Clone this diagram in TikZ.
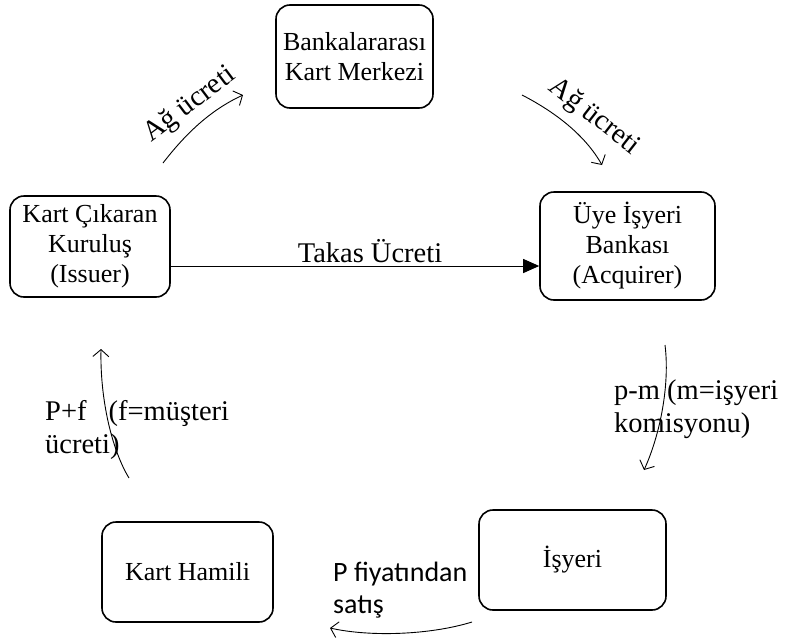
\documentclass[tikz,border=0pt]{standalone}
\usepackage{fontspec}
\setmainfont{Liberation Serif}
\newfontfamily\calfont{Carlito}
\usetikzlibrary{arrows.meta}
\begin{document}
\begin{tikzpicture}[x=1pt,y=-1pt,
  box/.style={draw,line width=1.6pt,rounded corners=14pt,align=center,inner sep=0pt,
    font=\fontsize{26}{30}\selectfont},
  lbl/.style={font=\fontsize{28.5}{33}\selectfont,inner sep=0pt},
  open/.style={line width=0.9pt,-{Straight Barb[length=7pt,width=16pt,line width=0.9pt]}},
  fill arrow/.style={line width=1pt,-{Triangle[length=16pt,width=14pt]}}]
\useasboundingbox (0,0) rectangle (786,640);
\node[box,minimum width=157pt,minimum height=103pt] (bank) at (354.5,56.5) {Bankalararası\\Kart Merkezi};
\node[box,minimum width=160pt,minimum height=101pt] (iss) at (90,246.5) {Kart Çıkaran\\Kuruluş\\(Issuer)};
\node[box,minimum width=175pt,minimum height=108pt] (acq) at (627.5,246) {Üye İşyeri\\Bankası\\(Acquirer)};
\node[box,minimum width=171pt,minimum height=100pt] (hamil) at (187.5,572) {Kart Hamili};
\node[box,minimum width=187pt,minimum height=100pt] (isy) at (572.5,560) {İşyeri};

% Ag ucreti left
\coordinate (l1) at (163,163);
\coordinate (l2) at (243,95);
\draw[open] (l1) .. controls (190,128) and (215,108) .. (l2);
\node[lbl,rotate=37] (agl) at (190,105) {Ağ ücreti};
% Ag ucreti right
\coordinate (r1) at (522,95);
\coordinate (r2) at (602,165);
\draw[open] (r1) .. controls (555,112) and (585,135) .. (r2);
\node[lbl,rotate=-38] (agr) at (594,117) {Ağ ücreti};
% Takas
\draw[fill arrow] (iss.east |- 0,266) coordinate (t1) -- (acq.west |- t1);
\node[lbl] (tak) at (370,251) {Takas Ücreti};
% p-m
\coordinate (p1) at (665,345);
\coordinate (p2) at (644,470);
\draw[open] (p1) .. controls (670,385) and (660,435) .. (p2);
\node[lbl,anchor=north west,align=left] (pm) at (614,380) {p-m (m=işyeri\\komisyonu)};
% P+f
\coordinate (f1) at (129,478);
\coordinate (f2) at (101,349);
\draw[open] (f1) .. controls (112,450) and (100,400) .. (f2);
\node[lbl,anchor=north west,align=left] (pf) at (45,400) {P+f\hspace{22pt}(f=müşteri\\ücreti)};
% sales
\coordinate (s1) at (472,622);
\coordinate (s2) at (330,628);
\draw[open] (s1) .. controls (430,635) and (370,637) .. (s2);
\node[anchor=north west,align=left,inner sep=0pt,font=\calfont\fontsize{28}{32}\selectfont] (sat) at (333,562) {P fiyatından\\satış};
\end{tikzpicture}
\end{document}
